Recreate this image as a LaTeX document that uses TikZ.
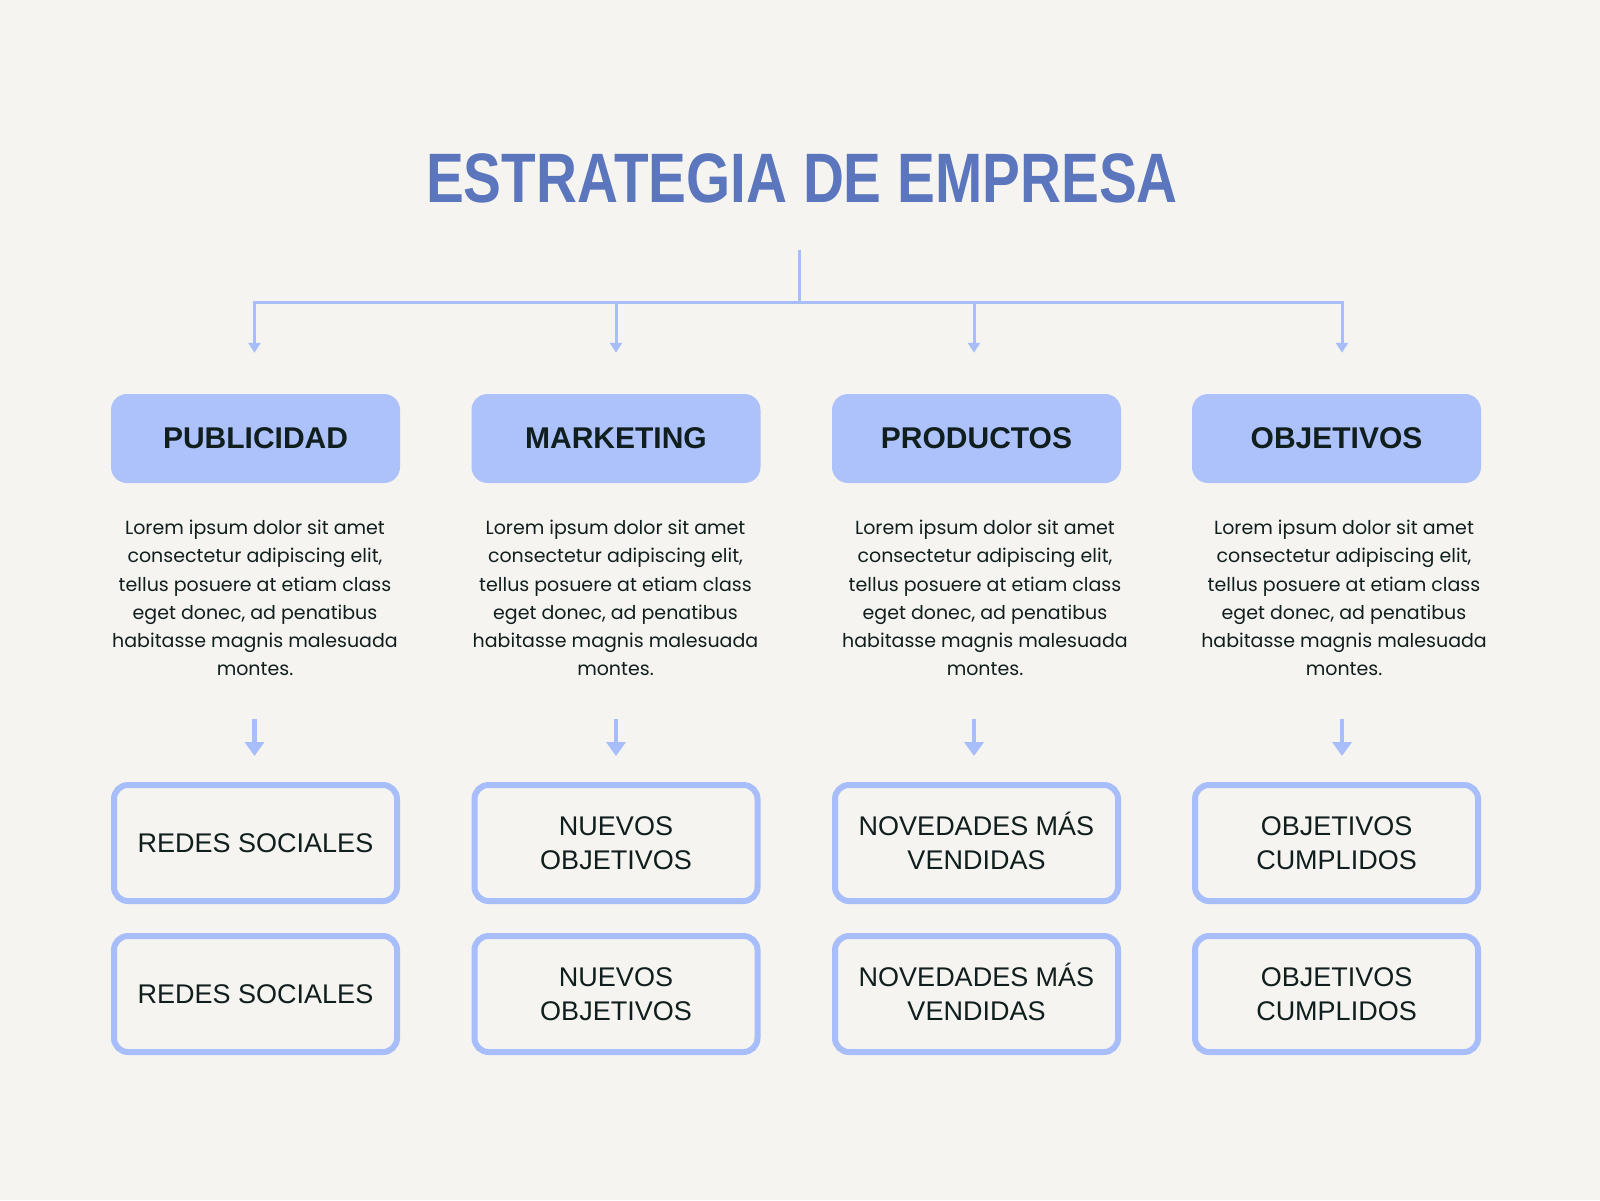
\documentclass[tikz,border=0pt]{standalone}
\usepackage{fontspec}
\setmainfont{Liberation Sans}
\newfontfamily\bodyfont{Poppins}
\usetikzlibrary{calc}
\usetikzlibrary{arrows.meta}
\definecolor{cus-bg}{RGB}{245, 244, 240}
\definecolor{cus-title}{RGB}{92, 118, 189}
\definecolor{cus-blue}{RGB}{173, 194, 251}
\definecolor{cus-blue1}{RGB}{168, 190, 250}
\definecolor{cus-dark}{RGB}{16, 30, 30}
\tikzset{
	header/.style={fill=cus-blue, rounded corners=16pt, minimum width=289pt, minimum height=89pt, text=cus-dark, font=\fontsize{30}{36}\selectfont\bfseries},
	body/.style={align=center, text=cus-dark, font=\bodyfont\fontsize{19}{28.2}\selectfont},
	item/.style={draw=cus-blue1, line width=6pt, rounded corners=14pt, minimum width=283pt, minimum height=116pt, align=center, text=cus-dark, font=\fontsize{27}{34}\selectfont},
	link/.style={draw=cus-blue1, line width=3pt, -{Triangle[width=12pt,length=10pt]}},
	down/.style={draw=cus-blue1, line width=4.5pt, -{Triangle[width=19pt,length=14pt]}}
}

\begin{document}
\begin{tikzpicture}[x=1pt, y=-1pt]
\fill [cus-bg] (0 ,0) rectangle (1600 ,1200);
\useasboundingbox (0 ,0) rectangle (1600 ,1200);

\node [anchor=base, text=cus-title, font=\fontsize{70}{80}\selectfont\bfseries] (title) at (802 ,202) {\scalebox{0.81}[1]{ESTRATEGIA DE EMPRESA}};

\coordinate (root) at (799 ,250);
\coordinate (fork) at (799 ,302);
\draw [draw=cus-blue1, line width=3pt] (root) -- (fork);

% column: box x / text x / arrow shift / head / item
\foreach \i/\x/\tx/\dx/\head/\itm in {1/255.5/255/-1/PUBLICIDAD/{REDES SOCIALES}, 2/616/615.5/0/MARKETING/{NUEVOS\\OBJETIVOS}, 3/976.5/985/-2.5/PRODUCTOS/{NOVEDADES M\smash{Á}S\\VENDIDAS}, 4/1336.5/1344/5.5/OBJETIVOS/{OBJETIVOS\\CUMPLIDOS}} {
	\node [header] (h\i) at (\x ,438.5) {\head};
	\node [body] (t\i) at (\tx ,598) {Lorem ipsum dolor sit amet\\consectetur adipiscing elit,\\tellus posuere at etiam class\\eget donec, ad penatibus\\habitasse magnis malesuada\\montes.};
	\node [item] (a\i) at (\x ,843) {\itm};
	\node [item] (b\i) at (\x ,994) {\itm};
	\draw [link] (fork) -| ([xshift=\dx pt, yshift=41pt]h\i.north);
	\draw [down] ([xshift=\dx pt, yshift=63pt]a\i.north) -- ([xshift=\dx pt, yshift=26pt]a\i.north);
}
\end{tikzpicture}
\end{document}
